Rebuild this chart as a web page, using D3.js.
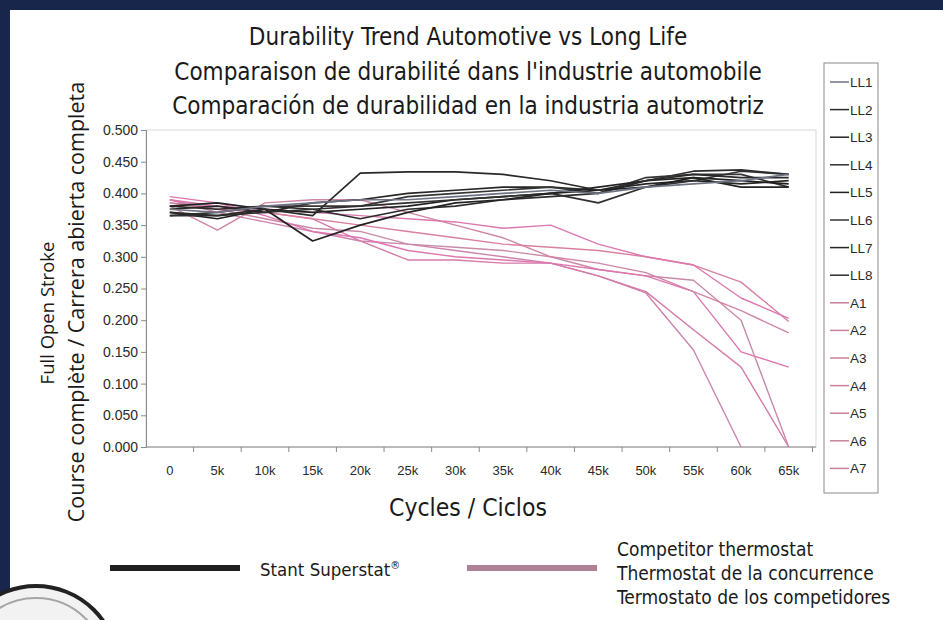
<!DOCTYPE html>
<html>
<head>
<meta charset="utf-8">
<script src="https://cdn.jsdelivr.net/npm/d3@7"></script>
<style>
  body { margin: 0; background: #17264a; }
  svg { display: block; }
</style>
</head>
<body>
<div class="chart"></div>
<script>
const chart = d3.select('.chart');

const screenwidth = 943;
const screenheight = 620;

// cycles on the x axis
const cycles = ['0','5k','10k','15k','20k','25k','30k','35k','40k','45k','50k','55k','60k','65k'];
const yTicks = [0, 0.05, 0.1, 0.15, 0.2, 0.25, 0.3, 0.35, 0.4, 0.45, 0.5];

// Stant Long Life thermostats
const LL1 = [0.375, 0.370, 0.380, 0.385, 0.390, 0.390, 0.395, 0.400, 0.405, 0.400, 0.410, 0.415, 0.420, 0.430];
const LL2 = [0.370, 0.365, 0.375, 0.365, 0.432, 0.434, 0.434, 0.430, 0.420, 0.405, 0.420, 0.430, 0.425, 0.425];
const LL3 = [0.380, 0.385, 0.375, 0.325, 0.350, 0.370, 0.385, 0.390, 0.400, 0.410, 0.420, 0.425, 0.410, 0.410];
const LL4 = [0.365, 0.365, 0.370, 0.375, 0.380, 0.385, 0.390, 0.395, 0.400, 0.385, 0.410, 0.420, 0.435, 0.430];
const LL5 = [0.370, 0.360, 0.375, 0.370, 0.375, 0.380, 0.390, 0.395, 0.400, 0.405, 0.410, 0.425, 0.420, 0.415];
const LL6 = [0.365, 0.370, 0.380, 0.380, 0.380, 0.395, 0.400, 0.405, 0.410, 0.400, 0.425, 0.430, 0.430, 0.410];
const LL7 = [0.375, 0.380, 0.370, 0.385, 0.390, 0.400, 0.405, 0.410, 0.410, 0.405, 0.415, 0.420, 0.415, 0.420];
const LL8 = [0.380, 0.375, 0.380, 0.375, 0.360, 0.375, 0.380, 0.390, 0.395, 0.400, 0.420, 0.435, 0.437, 0.430];

// automotive competitor thermostats
const A1 = [0.390, 0.380, 0.375, 0.370, 0.365, 0.360, 0.355, 0.345, 0.350, 0.320, 0.300, 0.287, 0.235, 0.203];
const A2 = [0.385, 0.375, 0.370, 0.360, 0.350, 0.340, 0.330, 0.320, 0.315, 0.310, 0.300, 0.287, 0.260, 0.198];
const A3 = [0.380, 0.342, 0.385, 0.390, 0.390, 0.370, 0.350, 0.330, 0.300, 0.290, 0.275, 0.245, 0.215, 0.180];
const A4 = [0.395, 0.385, 0.365, 0.340, 0.330, 0.310, 0.300, 0.295, 0.290, 0.280, 0.270, 0.245, 0.150, 0.126];
const A5 = [0.390, 0.375, 0.360, 0.345, 0.340, 0.320, 0.315, 0.310, 0.300, 0.280, 0.270, 0.263, 0.200, 0.000];
const A6 = [0.385, 0.380, 0.370, 0.360, 0.325, 0.295, 0.295, 0.290, 0.290, 0.270, 0.245, 0.185, 0.126, 0.000];
const A7 = [0.390, 0.370, 0.355, 0.340, 0.325, 0.320, 0.310, 0.300, 0.290, 0.270, 0.243, 0.153, 0.000, null];

const series = [
  {name: 'LL1', values: LL1, color: '#6f7283'},
  {name: 'LL2', values: LL2, color: '#2a2a2a'},
  {name: 'LL3', values: LL3, color: '#232323'},
  {name: 'LL4', values: LL4, color: '#303030'},
  {name: 'LL5', values: LL5, color: '#1f1f1f'},
  {name: 'LL6', values: LL6, color: '#353535'},
  {name: 'LL7', values: LL7, color: '#262626'},
  {name: 'LL8', values: LL8, color: '#2c2c2c'},
  {name: 'A1', values: A1, color: '#dc78ae'},
  {name: 'A2', values: A2, color: '#d9809f'},
  {name: 'A3', values: A3, color: '#cf86a6'},
  {name: 'A4', values: A4, color: '#de76b0'},
  {name: 'A5', values: A5, color: '#c98aa8'},
  {name: 'A6', values: A6, color: '#d67aa8'},
  {name: 'A7', values: A7, color: '#cc84ad'},
];

const titles = [
  'Durability Trend Automotive vs Long Life',
  "Comparaison de durabilité dans l'industrie automobile",
  'Comparación de durabilidad en la industria automotriz'
];
const competitorText = ['Competitor thermostat', 'Thermostat de la concurrence', 'Termostato de los competidores'];

const svg = chart.append('svg')
  .attr('width', screenwidth)
  .attr('height', screenheight);

// white page on the dark background
svg.append('rect')
  .attr('x', 10).attr('y', 10)
  .attr('width', screenwidth - 10).attr('height', screenheight - 10)
  .attr('fill', '#ffffff');

// thermostat picture peeking in bottom left
svg.append('circle')
  .attr('cx', 36).attr('cy', 668).attr('r', 82)
  .attr('fill', '#f2f2f2').attr('stroke', '#222').attr('stroke-width', 4);
svg.append('circle')
  .attr('cx', 36).attr('cy', 668).attr('r', 70)
  .attr('fill', 'none').attr('stroke', '#a5a5a5').attr('stroke-width', 2);

const x = d3.scaleBand()
  .domain(cycles)
  .range([146, 812.5]);

const y = d3.scaleLinear()
  .domain([0, 0.5])
  .range([447, 130]);

const cx = (c) => x(c) + x.bandwidth() / 2;

// plot frame
svg.append('rect')
  .attr('x', 146).attr('y', 130)
  .attr('width', 670).attr('height', 317)
  .attr('fill', 'none')
  .attr('stroke', '#d8d8d8');

// y axis
const yAxis = svg.append('g')
  .attr('transform', 'translate(146,0)')
  .call(d3.axisLeft(y).tickValues(yTicks).tickFormat(d3.format('.3f')).tickSize(5).tickPadding(3));
yAxis.select('.domain').attr('stroke', '#8a8a8a');
yAxis.selectAll('.tick line').attr('stroke', '#8a8a8a');
yAxis.selectAll('text')
  .style('font-family', 'Liberation Sans, Arial, sans-serif')
  .style('font-size', '14px')
  .attr('fill', '#2a2a2a');

// x axis, labels in the middle of each category
const xAxis = svg.append('g')
  .attr('transform', 'translate(0,447)')
  .call(d3.axisBottom(x).tickSize(0).tickPadding(19).tickSizeOuter(0));
xAxis.select('.domain').attr('d', 'M146,0H816').attr('stroke', '#8a8a8a');
xAxis.selectAll('text')
  .style('font-family', 'Liberation Sans, Arial, sans-serif')
  .style('font-size', '13px')
  .attr('fill', '#2a2a2a');

// tick marks between categories
svg.append('g').selectAll('line')
  .data(cycles.slice(1).concat(['end']))
  .enter().append('line')
  .attr('x1', (d) => d === 'end' ? 812.5 : x(d))
  .attr('x2', (d) => d === 'end' ? 812.5 : x(d))
  .attr('y1', 447)
  .attr('y2', 452)
  .attr('stroke', '#8a8a8a');

// lines
const line = d3.line()
  .defined((d) => d.v !== null)
  .x((d) => cx(d.c))
  .y((d) => y(d.v));

svg.append('g').selectAll('path')
  .data(series.slice().reverse())
  .enter().append('path')
  .attr('d', (d) => line(d.values.map((v, i) => ({c: cycles[i], v: v}))))
  .attr('fill', 'none')
  .attr('stroke', (d) => d.color)
  .attr('stroke-width', (d) => d.name.startsWith('LL') ? 1.7 : 1.4)
  .attr('stroke-linejoin', 'round');

// titles
svg.append('g').selectAll('text')
  .data(titles)
  .enter().append('text')
  .attr('x', 468)
  .attr('y', (d, i) => 45 + i * 34.5)
  .attr('text-anchor', 'middle')
  .style('font-family', 'DejaVu Sans Condensed, sans-serif')
  .style('font-size', '24px')
  .attr('fill', '#1a1a1a')
  .text((d) => d);

// axis titles
svg.append('text')
  .attr('transform', 'translate(54,313) rotate(-90)')
  .attr('text-anchor', 'middle')
  .style('font-family', 'Open Sans, sans-serif')
  .style('font-size', '18.5px')
  .attr('fill', '#1a1a1a')
  .text('Full Open Stroke');
svg.append('text')
  .attr('transform', 'translate(84,302) rotate(-90)')
  .attr('text-anchor', 'middle')
  .style('font-family', 'Open Sans, sans-serif')
  .style('font-size', '21.5px')
  .attr('fill', '#1a1a1a')
  .text('Course complète / Carrera abierta completa');
svg.append('text')
  .attr('x', 468).attr('y', 516)
  .attr('text-anchor', 'middle')
  .style('font-family', 'DejaVu Sans Condensed, sans-serif')
  .style('font-size', '24.5px')
  .attr('fill', '#1a1a1a')
  .text('Cycles / Ciclos');

// legend on the right
const legend = svg.append('g');
legend.append('rect')
  .attr('x', 824).attr('y', 63)
  .attr('width', 54).attr('height', 430)
  .attr('fill', '#ffffff')
  .attr('stroke', '#8a8a8a');
const item = legend.selectAll('g')
  .data(series)
  .enter().append('g')
  .attr('transform', (d, i) => 'translate(830,' + (82 + i * 27.6) + ')');
item.append('line')
  .attr('x1', 0).attr('x2', 19)
  .attr('stroke', (d) => d.name.startsWith('LL') ? d.color : '#c98296')
  .attr('stroke-width', 1.5);
item.append('text')
  .attr('x', 20).attr('y', 5)
  .style('font-family', 'Liberation Sans Narrow, Liberation Sans, Arial, sans-serif')
  .style('font-size', '13.5px')
  .attr('fill', '#2a2a2a')
  .text((d) => d.name);

// legend under the chart
svg.append('rect')
  .attr('x', 110).attr('y', 565).attr('width', 130).attr('height', 6)
  .attr('fill', '#1f1f1f');
const stant = svg.append('text')
  .attr('x', 260).attr('y', 576)
  .style('font-family', 'DejaVu Sans Condensed, sans-serif')
  .style('font-size', '18.5px')
  .attr('fill', '#1a1a1a')
  .text('Stant Superstat');
stant.append('tspan')
  .attr('dy', -7)
  .style('font-size', '11px')
  .text('®');
svg.append('rect')
  .attr('x', 467).attr('y', 565).attr('width', 130).attr('height', 6)
  .attr('fill', '#b08096');
svg.append('g').selectAll('text')
  .data(competitorText)
  .enter().append('text')
  .attr('x', 617)
  .attr('y', (d, i) => 556 + i * 24)
  .style('font-family', 'DejaVu Sans Condensed, sans-serif')
  .style('font-size', '19px')
  .attr('fill', '#1a1a1a')
  .text((d) => d);
</script>
</body>
</html>
